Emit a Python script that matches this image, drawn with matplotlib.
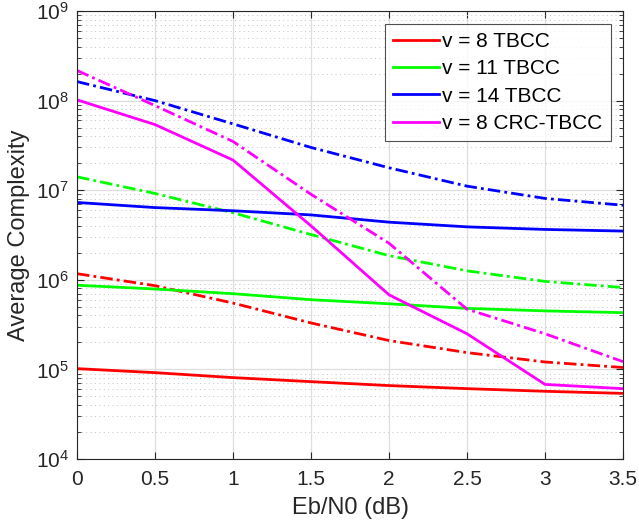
import numpy as np
import matplotlib
matplotlib.use('Agg')
import matplotlib.pyplot as plt
from matplotlib.ticker import LogLocator, NullFormatter

plt.rcParams['font.family'] = ['Liberation Sans', 'DejaVu Sans']
plt.rcParams['mathtext.fontset'] = 'custom'
plt.rcParams['mathtext.rm'] = 'Liberation Sans'

ebn0 = [0, 0.5, 1, 1.5, 2, 2.5, 3, 3.5]

# solid lines
v8_tbcc      = [1.02e5, 9.2e4, 8.1e4, 7.3e4, 6.6e4, 6.1e4, 5.7e4, 5.4e4]
v11_tbcc     = [8.7e5, 7.9e5, 7.0e5, 6.0e5, 5.4e5, 4.8e5, 4.5e5, 4.3e5]
v14_tbcc     = [7.3e6, 6.4e6, 5.9e6, 5.3e6, 4.4e6, 3.9e6, 3.65e6, 3.5e6]
v8_crc_tbcc  = [1.02e8, 5.4e7, 2.17e7, 4.0e6, 6.8e5, 2.5e5, 6.8e4, 6.1e4]

# dash-dot lines
v8_tbcc_dd     = [1.17e6, 8.6e5, 5.5e5, 3.3e5, 2.1e5, 1.54e5, 1.21e5, 1.05e5]
v11_tbcc_dd    = [1.41e7, 9.2e6, 5.6e6, 3.2e6, 1.86e6, 1.26e6, 9.6e5, 8.2e5]
v14_tbcc_dd    = [1.63e8, 1.0e8, 5.5e7, 3.0e7, 1.78e7, 1.11e7, 8.1e6, 6.8e6]
v8_crc_tbcc_dd = [2.17e8, 8.8e7, 3.5e7, 9.0e6, 2.56e6, 4.7e5, 2.5e5, 1.22e5]

labels = ['v = 8 TBCC', 'v = 11 TBCC', 'v = 14 TBCC', 'v = 8 CRC-TBCC']
colors = ['#ff0000', '#00ff00', '#0000ff', '#ff00ff']

fig = plt.figure(figsize=(6.39, 5.25), dpi=100)
ax = fig.add_axes([0.1205, 0.1257, 0.8545, 0.8533])

dd = (0, (4.5, 1.5, 1, 1.5))
solids = [v8_tbcc, v11_tbcc, v14_tbcc, v8_crc_tbcc]
dashes = [v8_tbcc_dd, v11_tbcc_dd, v14_tbcc_dd, v8_crc_tbcc_dd]
for s, d, c, lab in zip(solids, dashes, colors, labels):
    ax.plot(ebn0, s, color=c, lw=2, label=lab)
    ax.plot(ebn0, d, color=c, lw=2, linestyle=dd)

ax.set_yscale('log')
ax.set_xlim(0, 3.5)
ax.set_ylim(1e4, 1e9)
ax.set_xticks(ebn0)
ax.set_xticklabels(['0', '0.5', '1', '1.5', '2', '2.5', '3', '3.5'])
ax.yaxis.set_major_locator(LogLocator(base=10, numticks=10))
ax.yaxis.set_minor_locator(LogLocator(base=10, subs=np.arange(2, 10), numticks=20))
ax.yaxis.set_minor_formatter(NullFormatter())

ax.grid(True, which='major', color='#dedede', lw=0.9, linestyle='-')
ax.grid(True, which='minor', axis='y', color='#c4c4c4', lw=0.7, linestyle=(0, (1, 3.5)))
ax.set_axisbelow(True)

ax.tick_params(which='both', direction='in', top=True, right=True, labelsize=15, colors='#262626')
ax.tick_params(which='major', length=5)
ax.tick_params(which='minor', length=3)
ax.tick_params(axis='x', pad=8)
ax.tick_params(axis='y', pad=6)
for sp in ax.spines.values():
    sp.set_color('#262626')
    sp.set_linewidth(0.8)

ax.set_xlabel('Eb/N0 (dB)', fontsize=17, color='#262626', labelpad=6)
ax.set_ylabel('Average Complexity', fontsize=17, color='#262626', labelpad=4)

leg = ax.legend(loc='upper right', fontsize=15, frameon=True, fancybox=False,
                edgecolor='#262626', handlelength=2.2, handletextpad=0.15,
                borderpad=0.4, labelspacing=0.4, borderaxespad=0.6)
leg.get_frame().set_linewidth(0.8)

fig.savefig('out.png', dpi=100)
